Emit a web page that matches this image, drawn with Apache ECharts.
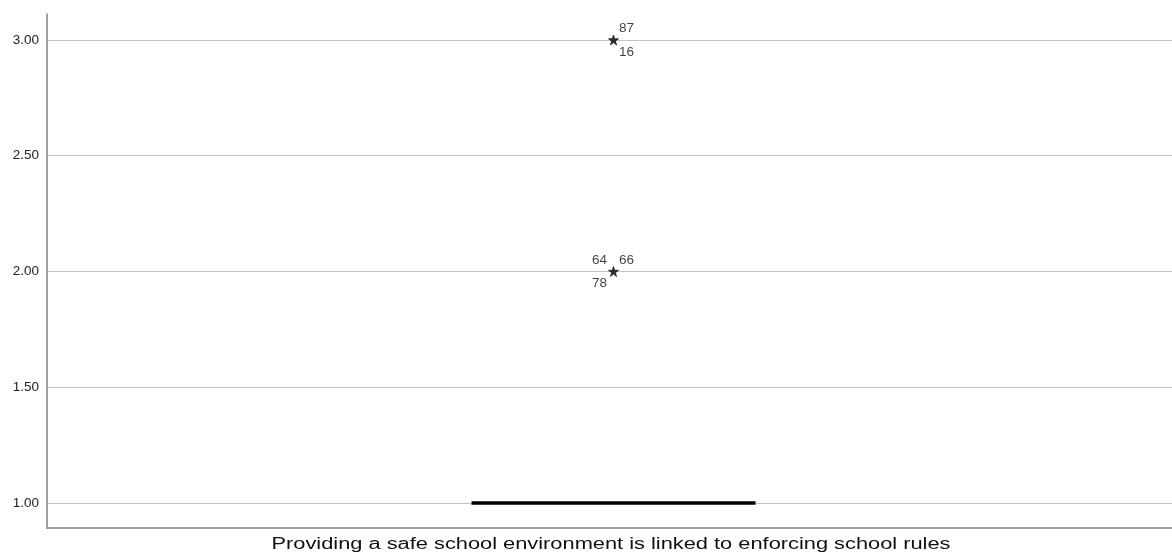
<!DOCTYPE html>
<html>
<head>
<meta charset="utf-8">
<script src="https://cdn.jsdelivr.net/npm/echarts@6/dist/echarts.min.js"></script>
<style>html,body{margin:0;padding:0;background:#fff;}#c{width:1172px;height:556px;}</style>
</head>
<body>
<div id="c"></div>
<script>
var categories = ['Providing a safe school environment is linked to enforcing school rules'];
// boxplot five-number summary: min, Q1, median, Q3, max
var boxValues = [[1, 1, 1, 1, 1]];
// extreme outliers (value) and case ids at each
var outlierValues = [3, 2];
var outlierIds = [['87', '16'], ['64', '66', '78']];
var yTicks = [1.0, 1.5, 2.0, 2.5, 3.0];

// label placement (style) per id, in order of outlierIds
var idOffsets = [
  [[13, -12], [13, 12]],
  [[-14, -11], [13, -11], [-14, 12]]
];

// asterisk-like star symbol shape
function starPath() {
  var pts = [];
  for (var k = 0; k < 10; k++) {
    var r = (k % 2 === 0) ? 50 : 19;
    var a = -Math.PI / 2 + k * Math.PI / 5;
    pts.push((50 + r * Math.cos(a)).toFixed(2) + ',' + (50 + r * Math.sin(a)).toFixed(2));
  }
  return 'path://M' + pts.join('L') + 'Z';
}

var idData = [];
outlierValues.forEach(function (v, i) {
  outlierIds[i].forEach(function (id, j) {
    idData.push({
      value: [0, v],
      label: { show: true, formatter: id, offset: idOffsets[i][j] }
    });
  });
});

// measure title text to stretch it like the reference rendering
var titleFont = '16px "Liberation Sans"';
var ctx = document.createElement('canvas').getContext('2d');
ctx.font = titleFont;
var titleW = ctx.measureText(categories[0]).width;
var titleScale = 679 / titleW;

var chart = echarts.init(document.getElementById('c'), null, { renderer: 'canvas' });
chart.setOption({
  animation: false,
  backgroundColor: '#ffffff',
  grid: { left: 47, right: -8, top: 14, bottom: 28, containLabel: false, outerBoundsMode: 'none' },
  xAxis: {
    type: 'category',
    data: categories,
    axisLine: { show: true, lineStyle: { color: '#808080', width: 1.5 } },
    axisTick: { show: false },
    axisLabel: { show: false }
  },
  yAxis: {
    type: 'value',
    min: 0.892,
    max: 3.112,
    axisLine: { show: true, lineStyle: { color: '#808080', width: 1.5 } },
    axisTick: { show: false, customValues: yTicks },
    axisLabel: {
      customValues: yTicks,
      formatter: function (v) { return v.toFixed(2); },
      fontFamily: 'Liberation Sans', fontSize: 13.5, color: '#222', margin: 8
    },
    splitLine: { show: false }
  },
  graphic: [{
    type: 'text',
    x: 611, y: 545,
    scaleX: titleScale,
    style: {
      text: categories[0],
      font: titleFont,
      fill: '#111',
      textAlign: 'center',
      textVerticalAlign: 'middle'
    }
  }],
  series: [
    {
      type: 'boxplot',
      data: boxValues,
      boxWidth: [284, 284],
      itemStyle: { color: '#ffffff', borderColor: '#000', borderWidth: 3.5 },
      markLine: {
        silent: true, symbol: 'none', z: 0,
        label: { show: false },
        lineStyle: { color: '#c4c4c4', width: 1.2, type: 'solid' },
        data: yTicks.map(function (t) { return { yAxis: t }; })
      },
      z: 5
    },
    {
      type: 'scatter',
      data: outlierValues.map(function (v) { return [0, v]; }),
      symbol: starPath(),
      symbolSize: 10,
      itemStyle: { color: '#000', borderColor: '#000', borderWidth: 0.8 },
      z: 6
    },
    {
      type: 'scatter',
      data: idData,
      symbolSize: 0,
      label: {
        show: true, position: 'inside',
        fontFamily: 'Liberation Sans', fontSize: 13.5, color: '#111'
      },
      z: 6
    }
  ]
});
</script>
</body>
</html>
